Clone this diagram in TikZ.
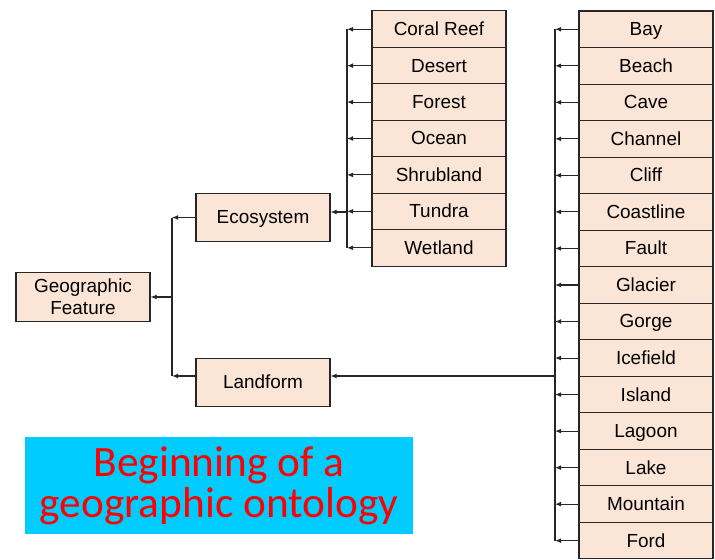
\documentclass[tikz,border=0pt]{standalone}
\usepackage{fontspec}
\setmainfont{Liberation Sans}
\newfontfamily\bannerfont{Carlito}
\usetikzlibrary{arrows.meta}
\definecolor{peach}{RGB}{251,229,214}
\definecolor{bannerblue}{RGB}{0,204,255}
\begin{document}
\begin{tikzpicture}[x=0.75pt,y=-0.75pt,
  boxbase/.style={draw=black!85, fill=peach, line width=0.8pt, minimum width=100.5pt,
    inner sep=0pt, font=\fontsize{14.2}{16.5}\selectfont},
  box/.style={boxbase, minimum height=27.4pt, text height=11pt, text depth=1.3pt},
  bigbox/.style={boxbase, minimum height=36.5pt, align=center},
  arr/.style={-{Latex[length=4.5pt,width=3.6pt]}, line width=0.8pt, draw=black!85},
  trunk/.style={line width=0.8pt, draw=black!85}]
\useasboundingbox (0,0) rectangle (715,560);

\node[bigbox] (geo) at (83,297) {Geographic\\Feature};
\node[box, minimum height=36.5pt] (eco) at (263,217.5) {Ecosystem};
\node[box, minimum height=36.5pt] (land) at (263,382.5) {Landform};

\foreach \t [count=\i] in {Coral Reef,Desert,Forest,Ocean,Shrubland,Tundra,Wetland}
  \node[box] (e\i) at (439,{11+18.22+(\i-1)*36.43}) {\t};
\foreach \t [count=\i] in {Bay,Beach,Cave,Channel,Cliff,Coastline,Fault,Glacier,Gorge,Icefield,Island,Lagoon,Lake,Mountain,Ford}
  \node[box] (l\i) at (646,{11+18.27+(\i-1)*36.53}) {\t};

% ecosystem list connectors
\coordinate (ev) at (347,212);
\foreach \i in {1,...,7}
  \draw[arr] (e\i.west) -- (e\i.west -| ev);
\draw[trunk] (e1.west -| ev) -- (e7.west -| ev);
\draw[arr] (ev) -- (eco.east |- ev);

% landform list connectors
\coordinate (lv) at (555,376);
\foreach \i in {1,...,15}
  \draw[arr] (l\i.west) -- (l\i.west -| lv);
\draw[trunk] (l1.west -| lv) -- (l15.west -| lv);
\draw[arr] (lv) -- (land.east |- lv);

% top level
\coordinate (gl) at (172,376);
\coordinate (gm) at (172,297);
\draw[arr] (eco.west) -- (eco.west -| gl);
\draw[arr] (land.west |- gl) -- (gl);
\draw[trunk] (eco.west -| gl) -- (gl);
\draw[arr] (gm) -- (geo.east);

\node[fill=bannerblue, minimum width=291pt, minimum height=72.75pt, inner sep=0pt,
  text=red, align=center, font=\bannerfont\fontsize{32.5}{31}\selectfont]
  (title) at (219,485.5) {Beginning of a\\geographic ontology};
\end{tikzpicture}
\end{document}
